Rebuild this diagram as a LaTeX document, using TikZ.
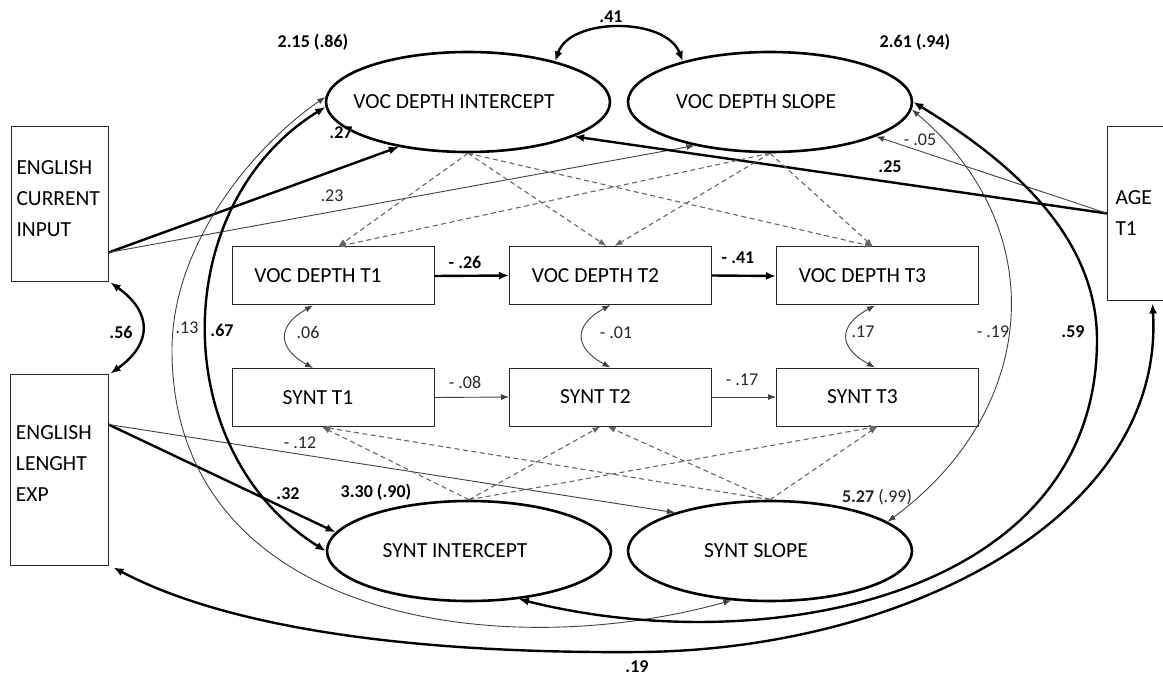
\documentclass[tikz,border=0pt]{standalone}
\usepackage{fontspec}
\setmainfont{Carlito}
\usetikzlibrary{arrows.meta,calc,shapes.geometric}
\begin{document}
\begin{tikzpicture}[x=1pt,y=-1pt,
  every node/.style={font=\fontsize{21.5}{31}\selectfont},
  box/.style={draw=black!85, line width=1pt, minimum width=202pt, minimum height=58pt, inner sep=0pt},
  side/.style={draw=black!85, line width=1pt, inner sep=0pt, align=left},
  lat/.style={ellipse, draw=black, line width=2.6pt, minimum width=284pt, minimum height=100pt, inner sep=0pt},
  lbl/.style={font=\fontsize{18}{21}\selectfont\bfseries, inner sep=0pt},
  lbln/.style={font=\fontsize{18}{21}\selectfont, inner sep=0pt, text=black!85},
  arrT/.style={line width=2.4pt, -{Latex[length=10pt,width=8pt]}},
  arrN/.style={line width=0.9pt, draw=black!75, -{Latex[length=8pt,width=6pt]}},
  arrD/.style={line width=1.1pt, draw=black!60, dash pattern=on 5pt off 3.5pt, -{Latex[length=8pt,width=6pt]}},
  covT/.style={line width=2.4pt, {Latex[length=10pt,width=8pt]}-{Latex[length=10pt,width=8pt]}},
  covN/.style={line width=0.9pt, draw=black!75, {Latex[length=8pt,width=6pt]}-{Latex[length=8pt,width=6pt]}},
]
\useasboundingbox (0,0) rectangle (1163,679);

% latent variables
\node[lat] (vi) at (468,102) {\hspace*{-28pt}VOC DEPTH INTERCEPT};
\node[lat] (vs) at (770,102) {\hspace*{-28pt}VOC DEPTH SLOPE};
\node[lat] (si) at (469,551) {\hspace*{-28pt}SYNT INTERCEPT};
\node[lat] (ss) at (770,551) {\hspace*{-28pt}SYNT SLOPE};

% observed time points
\node[box] (v1) at (333,276) {\hspace*{-30pt}VOC DEPTH T1};
\node[box] (v2) at (610.5,275.5) {\hspace*{-30pt}VOC DEPTH T2};
\node[box] (v3) at (877.5,276) {\hspace*{-30pt}VOC DEPTH T3};
\node[box] (s1) at (333,397.5) {\hspace*{-30pt}SYNT T1};
\node[box] (s2) at (610.5,397) {\hspace*{-30pt}SYNT T2};
\node[box] (s3) at (877.5,397) {\hspace*{-30pt}SYNT T3};

% covariates
\node[side, minimum width=97pt, minimum height=155pt, text width=86pt] (eci) at (59.5,204.5) {ENGLISH\\CURRENT\\INPUT\\[-19pt]\mbox{}};
\node[side, minimum width=98pt, minimum height=191pt, text width=86pt] (ele) at (59,469.5) {ENGLISH\\LENGHT\\EXP\\[-19pt]\mbox{}};
\node[side, draw=none, minimum width=55pt, minimum height=173pt, text width=40pt] (age) at (1135.5,213.5) {AGE\\T1};
\draw[line width=1pt, black!85] (age.north east) -- (age.north west) -- (age.south west) -- (age.south east);

% regressions of latent on covariates
\draw[arrT] ([yshift=30pt]eci.south east) -- (vi.213);
\draw[arrN] ([yshift=30pt]eci.south east) -- (vs.210);
\draw[arrT] (age.west) -- (vi.342);
\draw[arrN] (age.west) -- (vs.342);
\draw[arrT] ([yshift=-51pt]ele.north east) -- (si.172);
\draw[arrN] ([yshift=-51pt]ele.north east) -- (ss.158);

% autoregressive paths
\draw[arrT] (v1.east) -- (v2.west);
\draw[arrT] (v2.east) -- (v3.west);
\draw[arrN] (s1.east) -- (s2.west);
\draw[arrN] (s2.east) -- (s3.west);

% loadings (dashed)
\draw[arrD] (vi.south) -- ([xshift=5pt]v1.north);
\draw[arrD] (vi.south) -- ([xshift=-4pt]v2.north);
\draw[arrD] (vi.south) -- ([xshift=-4.5pt]v3.north);
\draw[arrD] (vs.south) -- ([xshift=5pt]v1.north);
\draw[arrD] (vs.south) -- ([xshift=4pt]v2.north);
\draw[arrD] (vs.south) -- ([xshift=-4.5pt]v3.north);
\draw[arrD] (si.north) -- ([xshift=-11pt]s1.south);
\draw[arrD] (si.north) -- ([xshift=-10pt]s2.south);
\draw[arrD] (si.north) -- (s3.south);
\draw[arrD] (ss.north) -- ([xshift=-11pt]s1.south);
\draw[arrD] (ss.north) -- ([xshift=-3pt]s2.south);
\draw[arrD] (ss.north) -- (s3.south);

% covariances
\draw[covT] (vi.25) .. controls (570,17) and (666,17) .. (vs.155);
\draw[covT] ([xshift=2pt]eci.south east) .. controls +(42,30) and +(42,-30) .. ([xshift=2pt]ele.north east);
\draw[covN] ([xshift=-20pt]v1.south) .. controls +(-36,20) and +(-36,-20) .. ([xshift=-20pt]s1.north);
\draw[covN] (v2.south) .. controls +(-37,20) and +(-37,-20) .. (s2.north);
\draw[covN] ([xshift=-2.5pt]v3.south) .. controls +(-37,20) and +(-37,-20) .. ([xshift=-2.5pt]s3.north);

\coordinate (m13) at (172,350);
\coordinate (m59) at (1097,340);
\coordinate (m19) at (640,652);
\draw[covT] (vi.182) .. controls (167,205) and (167,452) .. (si.west);
\draw[covN] (vi.178) .. controls (259,142) and (172,240) .. (m13) .. controls (172,620) and (500,665) .. (ss.232);
\draw[covT] (vs.east) .. controls (1000,155) and (1097,230) .. (m59) .. controls (1097,600) and (760,660) .. (si.316);
\draw[covN] (vs.357) .. controls (1054,230) and (1038,411) .. (ss.14);
\draw[covT] ([xshift=17pt,yshift=-3pt]age.south) .. controls (1165,520) and (900,650) .. (m19) .. controls (390,654) and (218,623) .. ([xshift=5pt,yshift=-2pt]ele.south east);

% labels
\node[lbl] (l41) at (611,17) {.41};
\node[lbl] (lvi) at (313,42) {2.15 (.86)};
\node[lbl] (lvs) at (915,42) {2.61 (.94)};
\node[lbl] (l27) at (341,133) {.27};
\node[lbln] (l23) at (332,196) {.23};
\node[lbl] (l25) at (890,167) {.25};
\node[lbln] (l05) at (920,140) {- .05};
\node[lbl] (l26) at (465,262) {- .26};
\node[lbl] (l41b) at (738,258) {- .41};
\node[lbln] (l08) at (465,382) {- .08};
\node[lbln] (l17b) at (742,380) {- .17};
\node[lbln] (l06) at (308,332) {.06};
\node[lbln] (l01) at (616,333) {- .01};
\node[lbln] (l17) at (863,332) {.17};
\node[lbl] (l56) at (121,332) {.56};
\node[lbln] (l13) at (187,328) {.13};
\node[lbl] (l67) at (222,330) {.67};
\node[lbln] (l19b) at (993,332) {- .19};
\node[lbl] (l59) at (1073,332) {.59};
\node[lbln] (l12) at (300,443) {- .12};
\node[lbl] (l32) at (288,494) {.32};
\node[lbl] (lsi) at (376,492) {3.30 (.90)};
\node[lbln] (lss) at (877,497) {\textbf{5.27} (.99)};
\node[lbl] (l19) at (637,667) {.19};
\end{tikzpicture}
\end{document}
